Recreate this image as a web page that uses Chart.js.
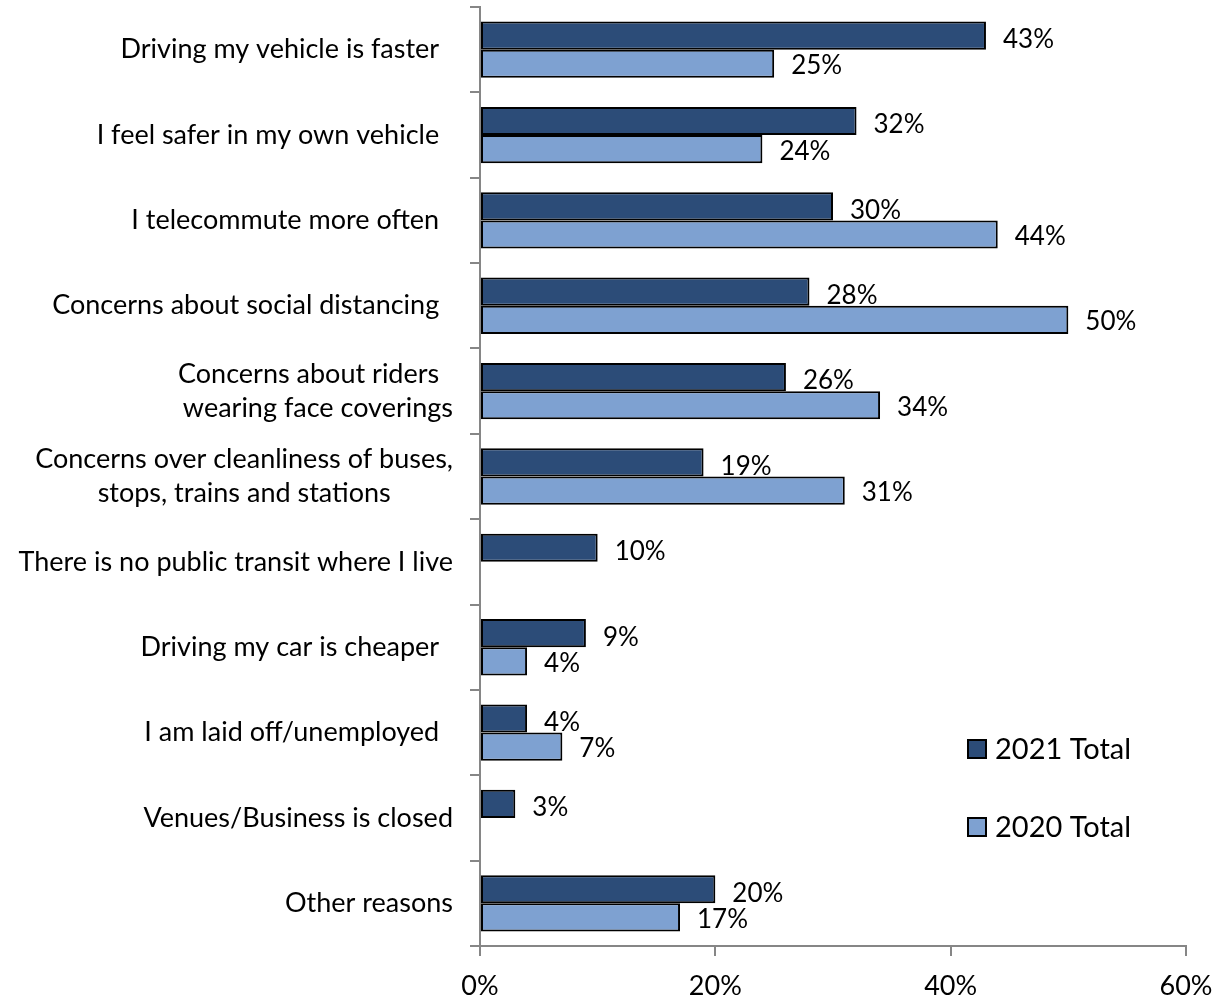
<!DOCTYPE html>
<html>
<head>
<meta charset="utf-8">
<title>Reasons for driving instead of transit</title>
<script src="https://cdn.jsdelivr.net/npm/chart.js@4.4.0/dist/chart.umd.min.js"></script>
<style>
    html, body { margin: 0; padding: 0; background: #fff; }
</style>
</head>
<body>
<canvas id="reasonsChart" width="1225" height="1000"></canvas>
<script>
// categories (trailing spaces keep the labels lined up as in the survey deck)
const reasons = [
    'Driving my vehicle is faster  ',
    'I feel safer in my own vehicle  ',
    'I telecommute more often  ',
    'Concerns about social distancing  ',
    ['Concerns about riders  ', 'wearing face coverings'],
    ['Concerns over cleanliness of buses,', 'stops, trains and stations         '],
    'There is no public transit where I live',
    'Driving my car is cheaper  ',
    'I am laid off/unemployed  ',
    'Venues/Business is closed',
    'Other reasons'
];
const total2021 = [43, 32, 30, 28, 26, 19, 10, 9, 4, 3, 20];
const total2020 = [25, 24, 44, 50, 34, 31, null, 4, 7, null, 17];
const seriesNames = ['2021 Total', '2020 Total'];
const seriesColors = ['#2c4c78', '#7ea1d1'];
const xTicks = [0, 20, 40, 60];

const FONT = 'Lato, "Open Sans", sans-serif';
const AXIS_GRAY = '#868686';

// percent labels to the right of each bar
const valueLabels = {
    id: 'valueLabels',
    afterDatasetsDraw(chart) {
        const ctx = chart.ctx;
        ctx.save();
        ctx.font = '26px ' + FONT;
        ctx.fillStyle = '#000';
        ctx.textBaseline = 'middle';
        ctx.textAlign = 'left';
        chart.data.datasets.forEach((ds, i) => {
            chart.getDatasetMeta(i).data.forEach((bar, j) => {
                if (ds.data[j] == null) return;
                ctx.fillText(ds.data[j] + '%', bar.x + 17, bar.y + (i === 0 ? 4 : 2));
            });
        });
        ctx.restore();
    }
};

// legend sits inside the plot, lower right
const boxLegend = {
    id: 'boxLegend',
    afterDraw(chart) {
        const ctx = chart.ctx;
        const area = chart.chartArea;
        const x = area.left + 488;
        let y = area.bottom - 197;
        ctx.save();
        ctx.font = '29px ' + FONT;
        ctx.textBaseline = 'middle';
        ctx.textAlign = 'left';
        chart.data.datasets.forEach(ds => {
            ctx.fillStyle = ds.backgroundColor;
            ctx.fillRect(x, y - 9, 18, 18);
            ctx.strokeStyle = '#000';
            ctx.lineWidth = 2;
            ctx.strokeRect(x, y - 9, 18, 18);
            ctx.fillStyle = '#000';
            ctx.fillText(ds.label, x + 27, y + 1);
            y += 78;
        });
        ctx.restore();
    }
};

const ctx = document.getElementById('reasonsChart').getContext('2d');
new Chart(ctx, {
    type: 'bar',
    data: {
        labels: reasons,
        datasets: [
            {
                label: seriesNames[0],
                data: total2021,
                backgroundColor: seriesColors[0],
                borderColor: '#000',
                borderWidth: 2,
                borderSkipped: false,
                categoryPercentage: 0.66,
                barPercentage: 1.0
            },
            {
                label: seriesNames[1],
                data: total2020,
                backgroundColor: seriesColors[1],
                borderColor: '#000',
                borderWidth: 2,
                borderSkipped: false,
                categoryPercentage: 0.66,
                barPercentage: 1.0
            }
        ]
    },
    options: {
        indexAxis: 'y',
        responsive: false,
        animation: false,
        layout: {
            padding: { top: 7, right: 39, left: 0, bottom: 0 }
        },
        plugins: {
            legend: { display: false },
            tooltip: { enabled: false }
        },
        scales: {
            x: {
                min: 0,
                max: 60,
                afterBuildTicks: scale => {
                    scale.ticks = xTicks.map(v => ({ value: v }));
                },
                afterFit: scale => {
                    scale.height = 54;
                    scale.paddingLeft = 0;
                    scale.paddingRight = 0;
                },
                grid: {
                    drawOnChartArea: false,
                    tickLength: 10,
                    color: AXIS_GRAY,
                    lineWidth: 2
                },
                border: { color: AXIS_GRAY, width: 2 },
                ticks: {
                    padding: 14,
                    color: '#000',
                    font: { family: FONT, size: 27 },
                    callback: value => value + '%'
                }
            },
            y: {
                afterFit: scale => {
                    scale.width = 480;
                    scale.paddingTop = 0;
                    scale.paddingBottom = 0;
                },
                grid: {
                    offset: true,
                    drawOnChartArea: false,
                    tickLength: 10,
                    color: AXIS_GRAY,
                    lineWidth: 2
                },
                border: { color: AXIS_GRAY, width: 2 },
                ticks: {
                    autoSkip: false,
                    padding: 17,
                    color: '#000',
                    font: { family: FONT, size: 27, lineHeight: 1.27 }
                }
            }
        }
    },
    plugins: [valueLabels, boxLegend]
});
</script>
</body>
</html>
